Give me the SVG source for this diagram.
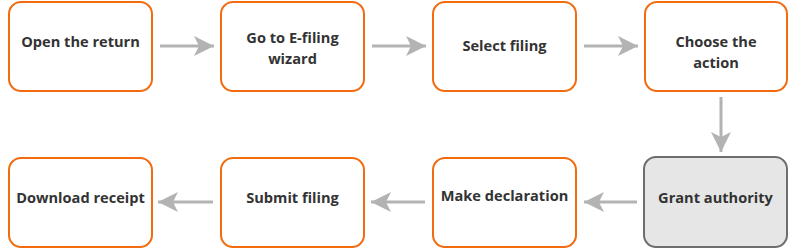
<svg xmlns="http://www.w3.org/2000/svg" width="797" height="249" viewBox="0 0 797 249">
<style>
.box{fill:#fff;stroke:#f26b0f;stroke-width:2}
.gbox{fill:#e6e6e6;stroke:#6e6e6e;stroke-width:2}
.t{font-family:"Open Sans","Noto Sans",sans-serif;font-weight:bold;font-size:14.6px;fill:#333;text-anchor:middle}
.c{stroke:#b3b3b3;stroke-width:3;fill:none}
</style>
<defs>
<marker id="ah" viewBox="0 0 20 20" refX="20" refY="10" markerWidth="20" markerHeight="20" markerUnits="userSpaceOnUse" orient="auto">
<path d="M0,0 L20,10 L0,20 L5,10 Z" fill="#b3b3b3"/>
</marker>
</defs>
<rect width="797" height="249" fill="#fff"/>
<g id="n1"><rect class="box" x="9" y="2" width="143" height="89" rx="12"/><text class="t" x="80.5" y="47">Open the return</text></g>
<g id="n2"><rect class="box" x="221" y="2" width="143" height="89" rx="12"/><text class="t" x="292.5" y="43">Go to E-filing</text><text class="t" x="292.5" y="64">wizard</text></g>
<g id="n3"><rect class="box" x="433" y="2" width="143" height="89" rx="12"/><text class="t" x="504.5" y="51">Select filing</text></g>
<g id="n4"><rect class="box" x="645" y="2" width="142" height="89" rx="12"/><text class="t" x="716" y="47">Choose the</text><text class="t" x="716" y="68">action</text></g>
<g id="n5"><rect class="gbox" x="644" y="157" width="143" height="90" rx="12"/><text class="t" x="715.5" y="203">Grant authority</text></g>
<g id="n6"><rect class="box" x="433" y="158" width="143" height="89" rx="12"/><text class="t" x="504.5" y="201">Make declaration</text></g>
<g id="n7"><rect class="box" x="221" y="158" width="143" height="89" rx="12"/><text class="t" x="292.5" y="203">Submit filing</text></g>
<g id="n8"><rect class="box" x="9" y="158" width="143" height="89" rx="12"/><text class="t" x="80.5" y="203">Download receipt</text></g>
<g id="connectors">
<line class="c" x1="160" y1="46" x2="214" y2="46" marker-end="url(#ah)"/>
<line class="c" x1="372" y1="46" x2="426" y2="46" marker-end="url(#ah)"/>
<line class="c" x1="584" y1="46" x2="638" y2="46" marker-end="url(#ah)"/>
<line class="c" x1="721" y1="97" x2="721" y2="152" marker-end="url(#ah)"/>
<line class="c" x1="637" y1="202" x2="584" y2="202" marker-end="url(#ah)"/>
<line class="c" x1="425" y1="202" x2="371" y2="202" marker-end="url(#ah)"/>
<line class="c" x1="213" y1="202" x2="158" y2="202" marker-end="url(#ah)"/>
</g>
</svg>
